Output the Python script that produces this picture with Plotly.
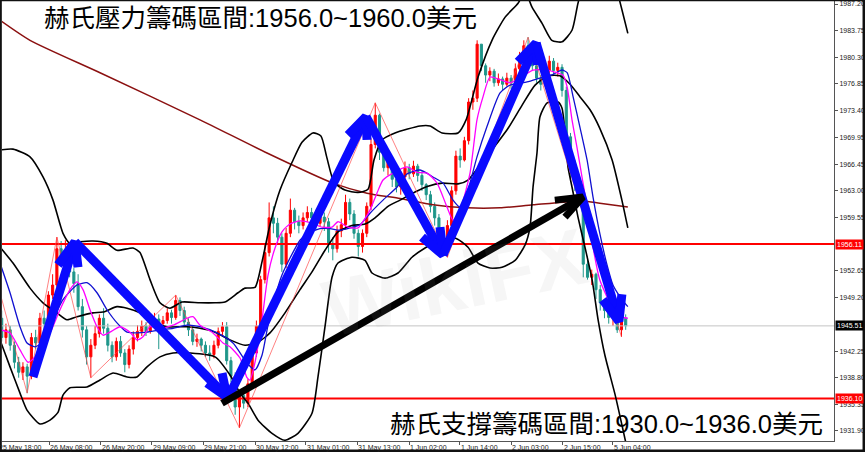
import plotly.graph_objects as go

# ---------------- data ----------------
first_open = 1946.5
closes = [1944.0, 1945.0, 1943.0, 1940.8, 1939.5, 1940.2, 1939.0, 1944.0, 1943.3, 1946.5,
          1945.8, 1949.5, 1950.8, 1955.5, 1954.2, 1955.0, 1952.5, 1951.0, 1948.0, 1945.0,
          1941.5, 1943.0, 1944.5, 1946.5, 1945.2, 1943.0, 1941.5, 1943.5, 1942.0, 1940.5,
          1942.5, 1944.0, 1944.8, 1945.5, 1944.8, 1945.6, 1946.4, 1945.8, 1946.2, 1947.2,
          1946.6, 1948.8, 1947.5, 1946.0, 1945.0, 1943.5, 1943.8, 1943.0, 1942.0, 1941.8,
          1943.0, 1944.8, 1945.4, 1941.0, 1939.0, 1935.0, 1936.5, 1935.5, 1938.0, 1942.0,
          1945.5, 1951.5, 1955.0, 1959.5, 1958.8, 1957.0, 1953.5, 1957.5, 1960.5, 1959.0,
          1958.5, 1959.5, 1960.2, 1959.5, 1958.8, 1959.6, 1959.0, 1956.2, 1955.5, 1957.8,
          1958.6, 1961.5, 1960.0, 1957.5, 1955.8, 1957.5, 1961.0, 1969.0, 1972.8, 1968.0,
          1966.0, 1966.8, 1964.5, 1963.5, 1964.8, 1966.0, 1965.2, 1966.2, 1965.0, 1963.8,
          1962.5, 1961.0, 1959.5, 1957.8, 1956.2, 1958.5, 1963.0, 1967.5, 1967.0, 1969.5,
          1974.5, 1975.0, 1982.0, 1979.2, 1978.0, 1978.5, 1977.0, 1977.5, 1976.8, 1977.6,
          1977.0, 1978.8, 1980.2, 1981.8, 1980.8, 1979.2, 1977.6, 1976.8, 1978.6, 1979.8,
          1978.6, 1979.0, 1976.0, 1970.0, 1966.0, 1964.5, 1962.5, 1953.5, 1951.8, 1952.2,
          1950.2, 1948.5, 1947.5, 1946.6, 1947.2, 1945.0, 1946.5, 1945.51]
highs = [1947.5, 1945.8, 1945.5, 1943.5, 1941.5, 1940.8, 1940.6, 1944.6, 1945.0, 1947.2,
         1947.5, 1950.0, 1952.2, 1957.0, 1956.5, 1956.6, 1955.5, 1953.0, 1952.2, 1949.0,
         1945.5, 1943.8, 1945.5, 1947.0, 1947.8, 1945.8, 1943.5, 1944.0, 1944.2, 1942.5,
         1943.0, 1944.8, 1945.6, 1946.2, 1946.0, 1946.4, 1947.2, 1947.0, 1946.8, 1947.8,
         1947.6, 1949.5, 1949.2, 1948.0, 1946.5, 1945.5, 1944.5, 1944.0, 1943.5, 1943.0,
         1943.6, 1945.3, 1946.0, 1946.0, 1941.5, 1939.5, 1937.0, 1937.5, 1938.6, 1942.8,
         1946.2, 1952.0, 1956.0, 1961.5, 1961.0, 1959.5, 1957.5, 1958.2, 1962.0, 1960.8,
         1959.8, 1960.2, 1961.0, 1960.8, 1960.0, 1960.4, 1960.2, 1959.5, 1957.0, 1958.5,
         1959.4, 1962.5, 1962.0, 1960.5, 1958.0, 1958.0, 1961.5, 1969.8, 1974.4, 1973.0,
         1968.5, 1967.5, 1967.0, 1965.0, 1965.5, 1966.8, 1966.5, 1966.9, 1966.5, 1965.5,
         1964.0, 1963.0, 1961.5, 1960.0, 1958.0, 1959.2, 1963.6, 1968.2, 1968.5, 1970.0,
         1975.0, 1976.0, 1982.5, 1982.0, 1979.5, 1979.0, 1978.8, 1978.2, 1977.8, 1978.3,
         1978.0, 1979.5, 1981.0, 1982.5, 1982.9, 1981.2, 1979.5, 1978.0, 1979.2, 1980.5,
         1980.2, 1979.6, 1979.4, 1976.5, 1970.5, 1967.0, 1965.0, 1962.8, 1954.5, 1952.8,
         1952.4, 1950.8, 1949.0, 1948.0, 1947.8, 1947.5, 1947.2, 1947.0]
lows = [1943.5, 1943.2, 1942.3, 1940.0, 1938.8, 1938.5, 1936.8, 1938.6, 1942.5, 1943.0,
        1945.0, 1945.5, 1949.0, 1950.5, 1953.5, 1953.8, 1951.8, 1949.8, 1947.5, 1944.0,
        1940.5, 1938.8, 1942.5, 1944.0, 1944.5, 1942.2, 1940.8, 1941.0, 1941.5, 1939.5,
        1940.0, 1941.8, 1943.5, 1944.2, 1944.2, 1944.5, 1945.5, 1942.5, 1945.0, 1945.8,
        1945.8, 1946.3, 1946.8, 1945.5, 1944.2, 1943.0, 1942.8, 1942.2, 1941.5, 1941.0,
        1941.3, 1942.6, 1944.2, 1940.5, 1938.2, 1934.0, 1932.3, 1934.8, 1935.0, 1937.5,
        1941.5, 1945.0, 1951.0, 1954.5, 1957.5, 1956.2, 1952.5, 1953.0, 1957.0, 1958.0,
        1957.5, 1958.0, 1959.0, 1958.5, 1958.0, 1958.4, 1957.8, 1955.0, 1954.0, 1955.0,
        1957.0, 1958.0, 1959.2, 1956.8, 1954.5, 1955.0, 1957.0, 1960.5, 1968.5, 1967.0,
        1965.5, 1965.0, 1963.5, 1962.8, 1962.5, 1964.2, 1964.5, 1964.8, 1964.2, 1963.0,
        1961.8, 1960.2, 1958.5, 1957.0, 1955.5, 1954.4, 1958.0, 1962.5, 1966.0, 1966.8,
        1969.0, 1973.5, 1974.5, 1978.5, 1977.0, 1977.2, 1976.5, 1976.6, 1976.0, 1976.5,
        1976.2, 1976.8, 1978.5, 1980.0, 1980.2, 1978.6, 1977.0, 1976.0, 1976.5, 1978.2,
        1978.0, 1977.8, 1975.2, 1968.5, 1964.5, 1963.0, 1961.5, 1951.8, 1951.5, 1950.8,
        1949.0, 1947.5, 1946.5, 1945.8, 1945.5, 1944.6, 1944.1, 1945.0]
opens = [first_open] + closes[:-1]
bars = list(range(len(closes)))

# long moving average (dark red)
ma_long_x = [-0.4, 6.67, 23.16, 46.71, 62.5, 78.04, 86.06, 93.83, 101.6, 109.6, 117.4, 125.2, 136.9, 140.9, 147.5]
ma_long_y = [1985.1, 1982.5, 1978.3, 1972.2, 1967.9, 1964.0, 1962.7, 1962.0, 1961.2, 1960.8, 1960.8, 1961.2, 1961.7, 1961.4, 1960.9]

# Bollinger bands (black)
bb_up_x = [-0.4, 2.66, 6.67, 9.73, 12.08, 14.44, 16.09, 18.44, 21.5, 24.81, 27.16, 30.93, 32.58, 34.93, 37.29,
           39.65, 42.48, 46.71, 50.25, 52.6, 55.67, 57.32, 59.67, 61.32, 63.2, 65.56, 68.4, 70.74, 73.33, 75.2,
           76.6, 78.3, 80.87, 83.94, 86.3, 87.7, 89.6, 92.65, 98.55, 100.9, 103.74, 107.5, 109.4, 112.2, 115.5,
           118.6, 121.65, 123.3, 124.93, 127.3, 129.6, 132.0, 134.35, 135.76, 138.6, 142.1, 145.2, 147.5]
bb_up_y = [1968.3, 1968.4, 1967.4, 1964.8, 1961.8, 1957.5, 1956.2, 1956.4, 1956.5, 1956.2, 1955.3, 1955.6, 1955.0,
           1951.5, 1948.5, 1947.8, 1948.6, 1948.5, 1948.5, 1948.6, 1949.8, 1950.4, 1950.5, 1953.8, 1958.6, 1963.1,
           1966.7, 1969.3, 1970.5, 1970.1, 1967.3, 1964.1, 1963.1, 1962.8, 1963.2, 1967.0, 1969.6, 1970.5, 1971.4,
           1971.4, 1970.5, 1970.5, 1972.2, 1977.7, 1982.5, 1985.5, 1987.3, 1988.8, 1986.8, 1984.7, 1982.5, 1982.3,
           1983.8, 1987.3, 1992.9, 1994.2, 1988.4, 1983.4]
bb_mid_x = [-0.4, 2.66, 6.67, 9.73, 13.03, 15.38, 17.74, 21.5, 23.86, 27.16, 29.52, 32.58, 35.64, 38.94, 43.65,
            46.71, 50.25, 53.78, 57.32, 60.38, 63.2, 66.74, 70.27, 73.1, 76.16, 79.22, 82.52, 85.59, 87.95, 91.0,
            93.83, 97.37, 100.44, 103.74, 107.5, 109.85, 112.2, 115.5, 119.29, 122.6, 125.65, 128.7, 131.5, 133.9,
            136.2, 138.6, 140.9, 143.8, 146.1, 147.5]
bb_mid_y = [1955.7, 1953.65, 1950.4, 1948.5, 1947.2, 1946.3, 1946.7, 1947.2, 1947.3, 1948.0, 1947.8, 1947.2, 1946.0,
            1945.4, 1945.4, 1945.2, 1944.7, 1943.7, 1943.0, 1943.4, 1944.6, 1947.2, 1950.2, 1952.5, 1955.3, 1957.7,
            1958.5, 1958.7, 1959.5, 1961.0, 1961.8, 1962.85, 1963.6, 1964.0, 1963.9, 1964.4, 1966.0, 1968.3, 1971.1,
            1974.1, 1976.7, 1977.9, 1977.9, 1976.8, 1975.2, 1973.5, 1971.1, 1967.0, 1961.8, 1958.2]
bb_low_x = [-0.4, 1.96, 4.31, 5.96, 9.02, 11.38, 13.26, 14.44, 16.09, 20.09, 23.16, 26.22, 29.52, 31.87, 34.23,
            37.29, 40.36, 44.36, 50.25, 53.78, 56.14, 58.02, 60.38, 63.68, 66.74, 69.8, 73.1, 74.51, 76.16, 77.81,
            79.22, 82.52, 85.59, 87.24, 90.3, 93.36, 96.66, 99.73, 103.27, 106.79, 109.85, 112.2, 115.03, 117.87,
            120.94, 123.3, 124.46, 125.17, 126.1, 126.8, 128.5, 131.05, 132.0, 132.7, 133.4, 134.35, 135.76, 137.4,
            139.1, 140.5, 142.1, 144.5, 146.1, 147.5]
bb_low_y = [1943.7, 1940.2, 1936.8, 1934.6, 1932.8, 1933.3, 1934.3, 1936.55, 1937.5, 1937.6, 1938.5, 1939.4, 1938.9,
            1938.9, 1940.2, 1941.5, 1942.0, 1942.0, 1941.5, 1939.15, 1936.8, 1935.5, 1933.3, 1931.6, 1930.7, 1931.6,
            1934.2, 1938.9, 1945.4, 1951.8, 1953.65, 1954.4, 1954.0, 1952.36, 1951.7, 1952.36, 1954.4, 1955.6,
            1956.6, 1956.9, 1955.7, 1953.65, 1953.0, 1953.1, 1954.0, 1956.0, 1958.3, 1963.5, 1967.9, 1972.6, 1974.4,
            1974.5, 1973.7, 1970.5, 1966.1, 1963.5, 1959.6, 1955.7, 1951.45, 1946.3, 1941.7, 1936.6, 1932.7, 1929.2]

# fast moving average (magenta) and medium moving average (blue)
ma_fast_x = [-0.4, 1.96, 4.31, 6.2, 7.84, 11.38, 13.73, 16.09, 17.74, 19.15, 20.8, 22.45, 23.86, 25.51, 27.87,
             30.22, 31.87, 33.28, 34.93, 37.29, 40.36, 43.65, 45.06, 46.71, 49.77, 52.13, 53.78, 56.14, 57.79,
             58.49, 59.67, 61.32, 62.74, 64.39, 66.03, 67.92, 70.27, 73.1, 75.46, 77.81, 79.22, 81.58, 83.94, 85.1,
             86.76, 88.4, 89.83, 92.18, 95.49, 97.84, 100.2, 102.56, 104.9, 106.32, 107.97, 110.32, 111.97, 113.4,
             115.03, 117.4, 119.76, 122.1, 125.17, 128.5, 130.8, 132.2, 133.2, 134.35, 135.5, 136.7, 137.9, 139.3,
             140.9, 142.6, 144.0, 145.7, 147.5]
ma_fast_y = [1945.0, 1944.6, 1942.4, 1940.8, 1941.5, 1944.6, 1947.6, 1950.2, 1951.2, 1950.2, 1947.6, 1945.4,
             1944.3, 1944.7, 1945.4, 1944.7, 1943.7, 1944.1, 1945.4, 1945.2, 1945.6, 1946.5, 1946.7, 1945.6, 1944.6,
             1943.3, 1942.8, 1941.35, 1938.8, 1938.5, 1940.8, 1946.3, 1952.1, 1955.6, 1957.7, 1958.7, 1959.1,
             1958.8, 1958.3, 1958.3, 1959.0, 1958.3, 1958.2, 1959.0, 1960.5, 1962.7, 1964.4, 1965.3, 1966.1, 1965.4,
             1965.3, 1964.0, 1960.9, 1959.2, 1960.5, 1965.3, 1972.2, 1975.2, 1977.75, 1977.4, 1977.0, 1977.6,
             1978.65, 1978.65, 1978.3, 1978.0, 1976.45, 1972.2, 1968.7, 1964.8, 1960.9, 1955.7, 1951.45, 1949.25,
             1947.6, 1946.7, 1946.5]
ma_mid_x = [-0.4, 1.96, 4.31, 5.96, 7.84, 9.73, 11.38, 14.44, 17.74, 20.09, 22.45, 24.81, 27.16, 29.52, 31.87,
            34.23, 37.29, 40.36, 43.65, 46.71, 50.72, 54.49, 57.79, 59.67, 61.32, 62.74, 64.39, 66.03, 67.92, 70.27,
            72.16, 74.98, 77.34, 79.69, 82.05, 84.41, 86.76, 89.83, 93.13, 95.49, 98.55, 101.6, 103.98, 106.32,
            107.97, 109.62, 111.97, 114.3, 117.4, 119.76, 123.75, 126.8, 129.9, 132.0, 133.2, 134.6, 136.2, 137.9,
            139.3, 140.9, 142.6, 144.0, 145.7, 147.5]
ma_mid_y = [1953.65, 1949.8, 1945.4, 1943.3, 1942.8, 1943.4, 1945.4, 1948.9, 1950.8, 1951.1, 1949.8, 1947.6,
            1945.9, 1944.7, 1944.6, 1944.7, 1945.0, 1945.2, 1945.6, 1945.4, 1944.6, 1943.3, 1940.7, 1939.8, 1941.7,
            1945.6, 1949.25, 1952.1, 1954.3, 1956.6, 1957.5, 1958.1, 1958.1, 1957.9, 1958.2, 1958.6, 1960.1,
            1961.8, 1963.5, 1965.2, 1965.7, 1964.8, 1964.0, 1961.8, 1960.9, 1962.7, 1967.4, 1971.3, 1975.7, 1976.7,
            1977.1, 1977.6, 1978.1, 1978.65, 1978.3, 1975.2, 1971.3, 1967.0, 1962.2, 1957.5, 1953.4, 1950.8,
            1949.25, 1948.0]

# zigzag swing points (thin red)
zz_x = [-0.4, 6, 13, 21, 41, 56, 88, 105, 124, 146]
zz_y = [1949.8, 1936.8, 1957.0, 1938.8, 1949.5, 1932.3, 1974.4, 1954.4, 1982.9, 1944.1]

# horizontal levels
resistance = 1956.11
support = 1936.10
last_price = 1945.51

# price axis ticks (the ones under the resistance and last-price tags are hidden in the picture)
ytick_vals = [1987.20, 1983.75, 1980.30, 1976.85, 1973.40, 1969.95, 1966.45, 1963.00, 1959.55,
              1952.65, 1949.20, 1942.25, 1938.80, 1935.35, 1931.90]

# time axis labels
date_labels = ["25 May 18:00", "26 May 08:00", "26 May 20:00", "29 May 09:00", "29 May 21:00", "30 May 12:00",
               "31 May 01:00", "31 May 13:00", "1 Jun 02:00", "1 Jun 14:00", "2 Jun 03:00", "2 Jun 15:00",
               "5 Jun 04:00"]
date_pos = [-0.4, 11.21, 23.39, 35.4, 47.49, 59.67, 71.68, 83.77, 95.95, 107.96, 119.98, 132.2, 144.0]

# hand-drawn arrows: (start, tip, wing a, wing b) as (bar, price)
blue_arrow_1 = [(7.37, 1938.9), (17.27, 1956.4), (13.26, 1953.4), (17.97, 1953.1)]
blue_arrow_2 = [(17.27, 1956.4), (53.07, 1936.3), (48.36, 1938.1), (51.9, 1939.4)]
blue_arrow_3 = [(53.07, 1935.9), (85.82, 1972.6), (81.58, 1970.2), (86.06, 1969.6)]
blue_arrow_4 = [(85.82, 1972.6), (103.96, 1954.7), (99.01, 1957.0), (103.25, 1958.3)]
blue_arrow_5 = [(103.96, 1954.7), (125.9, 1982.15), (121.63, 1979.7), (126.1, 1979.3)]
blue_arrow_6 = [(125.9, 1982.15), (145.4, 1946.1), (141.6, 1948.9), (146.1, 1949.6)]
black_arrow = [(51.9, 1935.5), (136.94, 1962.2), (130.3, 1961.8), (132.7, 1959.6)]

title_top = "赫氏壓力籌碼區間:1956.0~1960.0美元"
title_bottom = "赫氏支撐籌碼區間:1930.0~1936.0美元"

# ---------------- figure ----------------
X_RANGE = [0.07, 196.07]
Y_RANGE = [1930.60, 1987.59]
UP = "#ff0000"
DN = "#1f968a"
CJK = "Liberation Sans, Noto Sans CJK TC, Noto Sans CJK SC"

fig = go.Figure()


def hline(level, color, width):
    fig.add_trace(go.Scatter(x=X_RANGE, y=[level, level], mode="lines",
                             line=dict(color=color, width=width), hoverinfo="skip"))


def curve(xs, ys, color, width, smooth=0.6):
    fig.add_trace(go.Scatter(x=xs, y=ys, mode="lines", hoverinfo="skip",
                             line=dict(color=color, width=width, shape="spline", smoothing=smooth)))


def arrow(pts, color, width):
    s, t, a, b = pts
    fig.add_trace(go.Scatter(x=[s[0], t[0], None, a[0], t[0], b[0]],
                             y=[s[1], t[1], None, a[1], t[1], b[1]],
                             mode="lines", hoverinfo="skip",
                             line=dict(color=color, width=width)))


hline(last_price, "#c4c4c4", 1)

fig.add_trace(go.Candlestick(
    x=bars, open=opens, high=highs, low=lows, close=closes,
    increasing=dict(line=dict(color=UP, width=1), fillcolor=UP),
    decreasing=dict(line=dict(color=DN, width=1), fillcolor=DN),
    whiskerwidth=0, hoverinfo="skip"))

hline(resistance, "#ff0000", 2)
hline(support, "#ff0000", 2)

curve(ma_long_x, ma_long_y, "#8b1010", 1.5)
curve(bb_up_x, bb_up_y, "#000000", 1.6)
curve(bb_mid_x, bb_mid_y, "#000000", 1.6)
curve(bb_low_x, bb_low_y, "#000000", 1.6)
fig.add_trace(go.Scatter(x=zz_x, y=zz_y, mode="lines", hoverinfo="skip",
                         line=dict(color="rgba(255,70,70,0.85)", width=0.8)))
curve(ma_mid_x, ma_mid_y, "#1010d0", 1.3)
curve(ma_fast_x, ma_fast_y, "#ff00ff", 1.3)

for arr in [blue_arrow_1, blue_arrow_2, blue_arrow_3, blue_arrow_4, blue_arrow_5, blue_arrow_6]:
    arrow(arr, "#0a0aff", 9)
arrow(black_arrow, "#000000", 7)

annotations = []
# price tags on the right axis
for level, bg in [(resistance, "#ff0000"), (last_price, "#000000"), (support, "#ff0000")]:
    annotations.append(dict(xref="paper", x=1.0, xanchor="left", xshift=1, yref="y", y=level,
                            text=f"{level:.2f}", showarrow=False, bgcolor=bg, borderpad=1,
                            font=dict(family="Liberation Sans", size=7, color="white")))
# time labels
span = X_RANGE[1] - X_RANGE[0]
for i, (lab, pos) in enumerate(zip(date_labels, date_pos)):
    annotations.append(dict(xref="paper", x=(pos - X_RANGE[0]) / span, xanchor="left",
                            xshift=-3 if i == 0 else -1,
                            yref="paper", y=0, yanchor="top", yshift=-1, text=lab, showarrow=False,
                            font=dict(family="Liberation Sans", size=7, color="#222222")))
# watermark
annotations.append(dict(xref="paper", yref="paper", x=0.545, y=0.36, text="<b>WikiFX</b>", showarrow=False,
                        textangle=-12, font=dict(family="Liberation Sans", size=80, color="rgba(150,150,150,0.09)")))
# titles
annotations.append(dict(xref="paper", yref="paper", x=0.048, y=0.962, xanchor="left", yanchor="middle",
                        text=title_top, showarrow=False, font=dict(family=CJK, size=25.5, color="#000000")))
annotations.append(dict(xref="paper", yref="paper", x=0.464, y=0.038, xanchor="left", yanchor="middle",
                        text=title_bottom, showarrow=False, font=dict(family=CJK, size=25.5, color="#000000")))

# outer frame of the screenshot
frame = []
for x0, x1, y0, y1 in [(-0.0025, -0.0002, -0.03, 1.01), (-0.0025, 1.04, 0.9997, 1.01),
                       (1.0343, 1.04, -0.03, 1.01), (-0.0025, 1.04, -0.03, -0.0193)]:
    frame.append(dict(type="rect", xref="paper", yref="paper", x0=x0, x1=x1, y0=y0, y1=y1,
                      fillcolor="#111111", line=dict(width=0), layer="above"))

fig.update_layout(
    width=865, height=452, margin=dict(l=2, r=31, t=1, b=11),
    paper_bgcolor="white", plot_bgcolor="white", showlegend=False,
    annotations=annotations, shapes=frame,
    xaxis=dict(range=X_RANGE, showgrid=False, zeroline=False, showline=True, linecolor="#555555",
               linewidth=1, ticks="outside", ticklen=3, tickcolor="#555555", tickvals=date_pos[1:],
               showticklabels=False, rangeslider=dict(visible=False), fixedrange=True),
    yaxis=dict(range=Y_RANGE, side="right", showgrid=False, zeroline=False, showline=True,
               linecolor="#555555", linewidth=1, ticks="outside", ticklen=3, tickcolor="#555555",
               tickvals=ytick_vals, ticktext=[f"{v:.2f}" for v in ytick_vals],
               tickfont=dict(family="Liberation Sans", size=7, color="#222222"), fixedrange=True),
)

fig.write_html("out.html", config={"displayModeBar": False},
               post_script="document.body.style.margin='0';document.body.style.padding='0';"
                           "document.body.style.overflow='hidden';")
